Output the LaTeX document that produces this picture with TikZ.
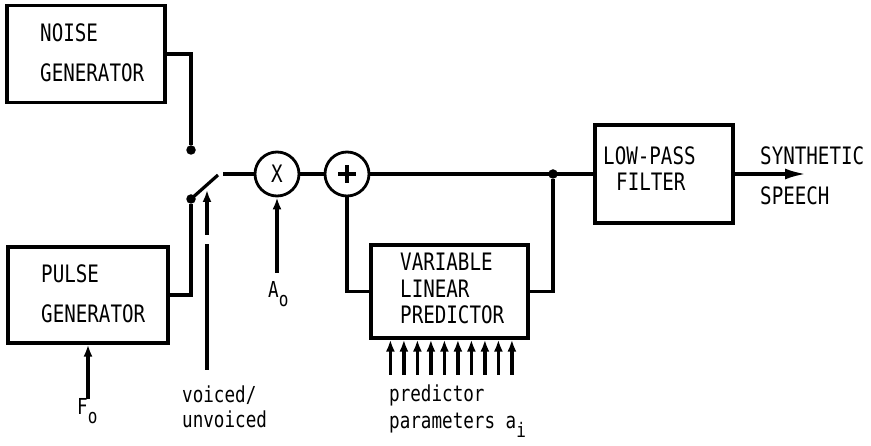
\documentclass[tikz,border=0pt]{standalone}
\usepackage{fontspec}
\setmainfont[FakeStretch=0.8]{DejaVu Sans Mono}
\usetikzlibrary{arrows.meta}

% lowered index letter
\newcommand{\lowsub}[1]{\raisebox{-9pt}{\fontsize{20}{20}\selectfont #1}}

\begin{document}
\begin{tikzpicture}[x=1pt, y=-1pt,
    wire/.style={line width=3.2pt},
    blk/.style={draw, line width=3.2pt, inner sep=0pt},
    junc/.style={circle, fill, inner sep=0pt, minimum size=9.5pt},
    opcircle/.style={circle, draw, line width=2.8pt, minimum size=44pt, inner sep=0pt},
    big/.style={inner sep=0pt, anchor=base west, font=\fontsize{24}{24}\selectfont},
    small/.style={inner sep=0pt, anchor=base west, font=\fontsize{22}{22}\selectfont},
    arr/.style={wire, -{Latex[length=12pt, width=9pt]}}
]
\useasboundingbox (0,0) rectangle (871,446);

% blocks
\node[blk, minimum width=158pt, minimum height=97pt] (noise) at (86,54) {};
\node[blk, minimum width=160pt, minimum height=96pt] (pulse) at (88,295) {};
\node[blk, minimum width=157pt, minimum height=93pt] (pred) at (449.5,291.5) {};
\node[blk, minimum width=138pt, minimum height=98pt] (lpf) at (664,174) {};

% block texts
\node[big] (noiseA) at (40,42) {NOISE};
\node[big] (noiseB) at (40,82) {GENERATOR};
\node[big] (pulseA) at (41,283) {PULSE};
\node[big] (pulseB) at (41,323) {GENERATOR};
\node[big] (predA) at (400,271) {VARIABLE};
\node[big] (predB) at (400,298) {LINEAR};
\node[big] (predC) at (400,324) {PREDICTOR};
\node[big] (lpfA) at (603,165) {LOW-PASS};
\node[big] (lpfB) at (616,191) {FILTER};

% multiplier and adder
\node[opcircle, font=\fontsize{24}{24}\selectfont] (mult) at (277,174) {X};
\node[opcircle] (plus) at (347,174) {};
\draw[line width=3.4pt] ([xshift=-9pt]plus.center) -- ([xshift=9pt]plus.center);
\draw[line width=3.4pt] ([yshift=-9pt]plus.center) -- ([yshift=9pt]plus.center);

% switch
\node[junc] (sw1) at (191,150) {};
\node[junc] (sw2) at (191,199) {};
\coordinate (blade) at (218,175);
\coordinate (swout) at (223,174);
\draw[wire] (noise.east) -| (sw1);
\draw[wire] (pulse.east) -| (sw2);
\draw[wire] (sw2.center) -- (blade);
\draw[wire] (swout) -- (mult);

% main line
\node[junc] (jn) at (553,174) {};
\draw[wire] (mult) -- (plus);
\draw[wire] (plus) -- (lpf.west);
\draw[wire] (plus.south) |- (pred.west);
\draw[wire] (pred.east) -| (jn);

% output
\coordinate (out) at (806,174);
\draw[wire, -{Latex[length=21pt, width=11pt]}] (lpf.east) -- (out);
\node[big] (outA) at (760,165) {SYNTHETIC};
\node[big] (outB) at (760,205) {SPEECH};

% control inputs
\node[small] (f0) at (77,415) {F\lowsub{o}};
\draw[arr] (f0.north -| pulse.south) -- (pulse.south);

\node[small] (a0) at (268,298) {A\lowsub{o}};
\coordinate (ain) at (277,273);
\draw[arr] (ain) -- (mult.south);

% voiced/unvoiced control, broken line
\coordinate (vuv) at (207,370);
\coordinate (vuvgap) at (207,244);
\coordinate (vuvdash) at (207,235);
\coordinate (vuvtip) at (207,190);
\draw[wire] (vuv) -- (vuvgap);
\draw[arr] (vuvdash) -- (vuvtip);
\node[small] (vuvA) at (182,403) {voiced/};
\node[small] (vuvB) at (182,428) {unvoiced};

% predictor parameters
\foreach \i in {0,...,9} {
    \draw[arr] ([xshift=21pt+13.5pt*\i]pred.south west) ++(0,35) -- ([xshift=21pt+13.5pt*\i]pred.south west);
}
\node[small] (parA) at (389,402) {predictor};
\node[small] (parB) at (389,429) {parameters a\lowsub{i}};

\end{tikzpicture}
\end{document}
